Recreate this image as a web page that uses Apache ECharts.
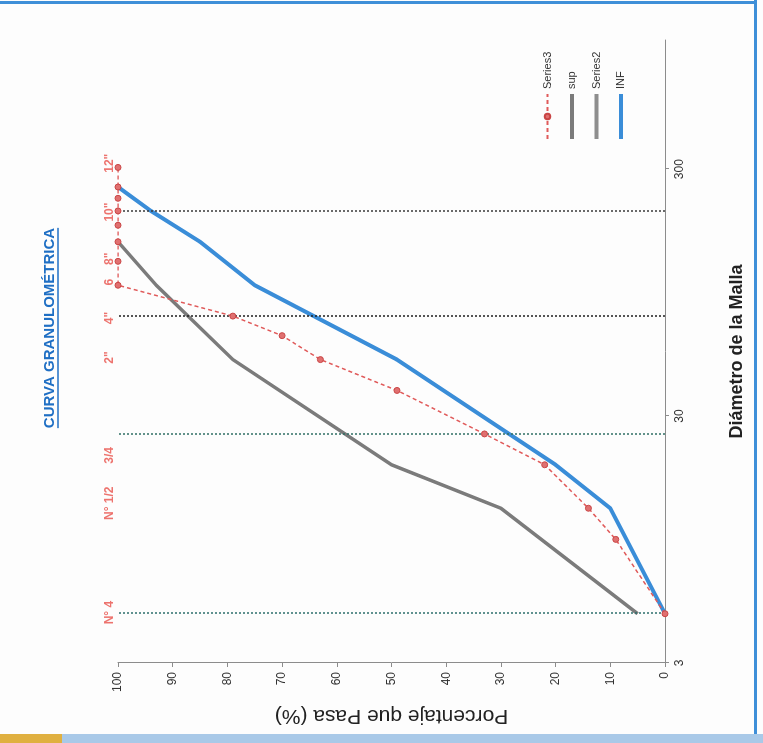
<!DOCTYPE html>
<html><head><meta charset="utf-8">
<script src="https://cdn.jsdelivr.net/npm/echarts@6/dist/echarts.min.js"></script>
<style>
html,body{margin:0;padding:0;width:763px;height:743px;overflow:hidden;background:#fdfdfd;}
#wrap{position:absolute;left:10px;top:-10px;width:743px;height:763px;transform:rotate(-90deg);transform-origin:50% 50%;}
.deco{position:absolute;z-index:2;}
</style></head><body>
<div id="wrap"></div>
<div class="deco" style="left:0;top:1px;width:757px;height:3px;background:#3f8fd8"></div>
<div class="deco" style="left:754px;top:0;width:3px;height:736px;background:#3f8fd8"></div>
<div class="deco" style="left:0;top:734px;width:763px;height:9px;background:#a9c9e8"></div>
<div class="deco" style="left:0;top:734px;width:62px;height:9px;background:#e0b040"></div>
<script>
// ---- data (diameters in mm, percentages passing) ----
const sizeTicks = [3, 30, 300];
const series3Size = [4.75, 9.5, 12.7, 19.05, 25.4, 38.1, 50.8, 63.5, 76.2, 101.6, 127, 152.4, 177.8, 203.2, 228.6, 254, 304.8];
const series3Pass = [0, 9, 14, 22, 33, 49, 63, 70, 79, 100, 100, 100, 100, 100, 100, 100, 100];
const supSize = [4.75, 12.7, 19.05, 50.8, 101.6, 152.4];
const supPass = [5, 30, 50, 79, 93, 100];
const series2Size = [];
const series2Pass = [];
const infSize = [4.75, 12.7, 19.05, 50.8, 101.6, 152.4, 203.2, 254];
const infPass = [0, 10, 20, 49, 75, 85, 94, 100];
const sieveLineSize = [4.75, 25.4, 76.2, 203.2];
const sieveLabels = ['N° 4', 'N° 1/2', '3/4', '2"', '4"', '6', '8"', '10"', '12"'];
const sieveLabelSize = [4.8, 13.3, 20.8, 51.8, 74.8, 104.5, 130, 201, 317];

const FONT = 'Liberation Sans, Arial, sans-serif';
const pair = (xs, ys) => xs.map((x, i) => [x, ys[i]]);

const titleText = 'CURVA GRANULOMÉTRICA';
const titleFont = 'bold 15px Liberation Sans';
const mctx = document.createElement('canvas').getContext('2d');
mctx.font = titleFont;
const tw = mctx.measureText(titleText).width;
const titleCx = 415, titleCy = 50;

const chart = echarts.init(document.getElementById('wrap'), null, {renderer: 'canvas'});
const lineColors = ['#2c6f6c', '#2f6f64', '#1e1e1e', '#3a3a3a'];

chart.setOption({
  animation: false,
  backgroundColor: 'transparent',
  grid: {left: 80, right: 40, top: 118, bottom: 98, outerBoundsMode: 'none'},
  legend: {
    data: [
      {name: 'Series3'},
      {name: 'sup', itemStyle: {opacity: 0}, lineStyle: {width: 4}},
      {name: 'Series2', itemStyle: {opacity: 0}, lineStyle: {width: 4}},
      {name: 'INF', itemStyle: {opacity: 0}, lineStyle: {width: 4}}
    ],
    orient: 'vertical', left: 597, top: 537,
    itemWidth: 45, itemHeight: 7, itemGap: 13.5,
    textStyle: {fontSize: 11, color: '#333', fontFamily: FONT}
  },
  graphic: [
    {type: 'text', x: titleCx, y: titleCy, style: {text: titleText, font: titleFont, fill: '#1f6fc4', textAlign: 'center', textVerticalAlign: 'middle'}},
    {type: 'line', shape: {x1: titleCx - tw / 2, y1: titleCy + 8, x2: titleCx + tw / 2, y2: titleCy + 8}, style: {stroke: '#1f6fc4', lineWidth: 1.5}}
  ],
  xAxis: {
    type: 'log', logBase: 10, min: 3, max: 1000,
    name: 'Diámetro de la Malla', nameLocation: 'middle', nameGap: 63,
    nameTextStyle: {fontSize: 18, fontWeight: 'bold', color: '#222', fontFamily: FONT},
    axisLine: {lineStyle: {color: '#8c8c8c', width: 1}},
    axisTick: {customValues: sizeTicks, length: 4, lineStyle: {color: '#8c8c8c'}},
    axisLabel: {customValues: sizeTicks, margin: 9, fontSize: 12, color: '#333', fontFamily: FONT,
      formatter: v => String(Math.round(v))},
    splitLine: {show: false}, minorTick: {show: false}, minorSplitLine: {show: false}
  },
  yAxis: {
    type: 'value', min: 0, max: 100, interval: 10,
    name: 'Porcentaje que Pasa (%)', nameLocation: 'middle', nameGap: 42, nameRotate: 90,
    nameTextStyle: {fontSize: 21, color: '#222', fontFamily: FONT},
    axisLine: {show: true, lineStyle: {color: '#8c8c8c', width: 1}},
    axisTick: {show: true, length: 4, lineStyle: {color: '#8c8c8c'}},
    axisLabel: {margin: 9, fontSize: 12, color: '#333', fontFamily: FONT},
    splitLine: {show: false}
  },
  series: [
    {name: 'Series2', type: 'line', data: pair(series2Size, series2Pass), symbol: 'none',
      color: '#8e8e8e', lineStyle: {width: 3.5, color: '#8e8e8e'}},
    {name: 'sup', type: 'line', data: pair(supSize, supPass), symbol: 'none',
      color: '#6f6f6f', lineStyle: {width: 3.5, color: '#7b7b7b'},
      markLine: {silent: true, symbol: 'none', label: {show: false},
        data: sieveLineSize.map((v, i) => ({xAxis: v, lineStyle: {color: lineColors[i], type: [2, 2], width: 1.5}}))}},
    {name: 'INF', type: 'line', data: pair(infSize, infPass), symbol: 'none',
      color: '#3a8dd8', lineStyle: {width: 4, color: '#3a8dd8'}},
    {name: 'Series3', type: 'line', data: pair(series3Size, series3Pass), symbol: 'circle', symbolSize: 6,
      color: '#e05a5a', lineStyle: {width: 1.5, type: [4, 3], color: '#e05a5a'},
      itemStyle: {color: '#e07070', borderColor: '#c94545', borderWidth: 1}, z: 5},
    {name: 'labels', type: 'scatter', data: pair(sieveLabelSize, sieveLabels.map(() => 100)),
      symbolSize: 0, silent: true, clip: false,
      label: {show: true, position: 'top', distance: 2, color: '#e8504a', fontSize: 12, fontWeight: 'bold', fontFamily: FONT,
        formatter: p => sieveLabels[p.dataIndex]}}
  ]
});
</script>
</body></html>
